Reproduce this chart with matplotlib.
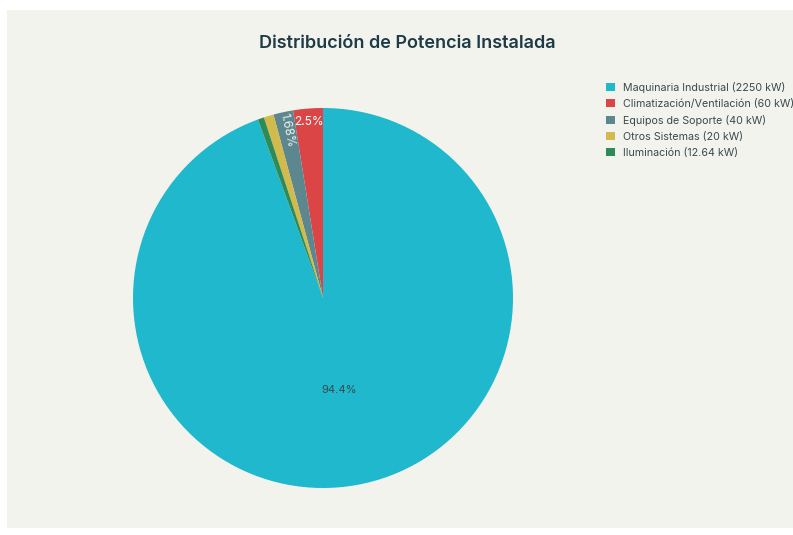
import numpy as np
import matplotlib.pyplot as plt
from matplotlib.patches import Rectangle

plt.rcParams['font.family'] = ['Inter', 'DejaVu Sans']

labels = ["Maquinaria Industrial", "Climatización/Ventilación", "Equipos de Soporte",
          "Otros Sistemas", "Iluminación"]
power_kw = [2250, 60, 40, 20, 12.64]
kw_labels = ["2250", "60", "40", "20", "12.64"]
colors = ["#1FB8CD", "#DB4545", "#5D878F", "#D2BA4C", "#2E8B57"]

W, H = 793, 535
fig = plt.figure(figsize=(W / 100, H / 100), dpi=100)
fig.patch.set_facecolor("white")
fig.patches.append(Rectangle((7 / W, 7 / H), 1 - 7 / W, 1 - 17 / H,
                             transform=fig.transFigure, facecolor="#F3F3EE",
                             edgecolor="none", zorder=-10))

cx, cy, r = 323, 298, 190
ax = fig.add_axes([(cx - r) / W, (H - cy - r) / H, 2 * r / W, 2 * r / H])
ax.set_facecolor("none")
ax.set_zorder(5)

total = sum(power_kw)
start = 90 - 360 * power_kw[0] / total
wedges, _ = ax.pie(power_kw, colors=colors, startangle=start, counterclock=True,
                   wedgeprops=dict(linewidth=0))
ax.set_xlim(-1, 1)
ax.set_ylim(-1, 1)
ax.set_aspect("equal")

# percent labels: big slice inside, small ones radial near the edge
for i, w in enumerate(wedges):
    pct = 100 * power_kw[i] / total
    if pct < 1:
        continue
    th = np.deg2rad((w.theta1 + w.theta2) / 2)
    if i == 0:
        ax.text(0.49 * np.cos(th), 0.49 * np.sin(th), f"{pct:.1f}%",
                ha="center", va="center", fontsize=8, color="#3A4A4E")
    elif pct > 2:
        ax.text(0.93 * np.cos(th), 0.93 * np.sin(th), f"{pct:.1f}%",
                ha="center", va="center", fontsize=8.6, color="white")
    else:
        ax.text(0.905 * np.cos(th), 0.905 * np.sin(th), f"{pct:.2f}%",
                ha="center", va="center", fontsize=8.6, color="#EEF2F2",
                rotation=np.rad2deg(th) - 180, rotation_mode="anchor")

fig.text(407 / W, 1 - 43 / H, "Distribución de Potencia Instalada",
         ha="center", va="center", fontsize=13, color="#1F3B45", fontweight="semibold")

handles = [Rectangle((0, 0), 1, 1, facecolor=c) for c in colors]
leg_labels = [f"{l} ({k} kW)" for l, k in zip(labels, kw_labels)]
fig.legend(handles, leg_labels, loc="upper left",
           bbox_to_anchor=(606 / W, 1 - 82 / H), frameon=False,
           fontsize=7.7, labelcolor="#3A4A4E", handlelength=0.8, handleheight=0.8,
           handletextpad=0.8, labelspacing=0.55, borderaxespad=0, borderpad=0)

fig.savefig("out.png", dpi=100)
